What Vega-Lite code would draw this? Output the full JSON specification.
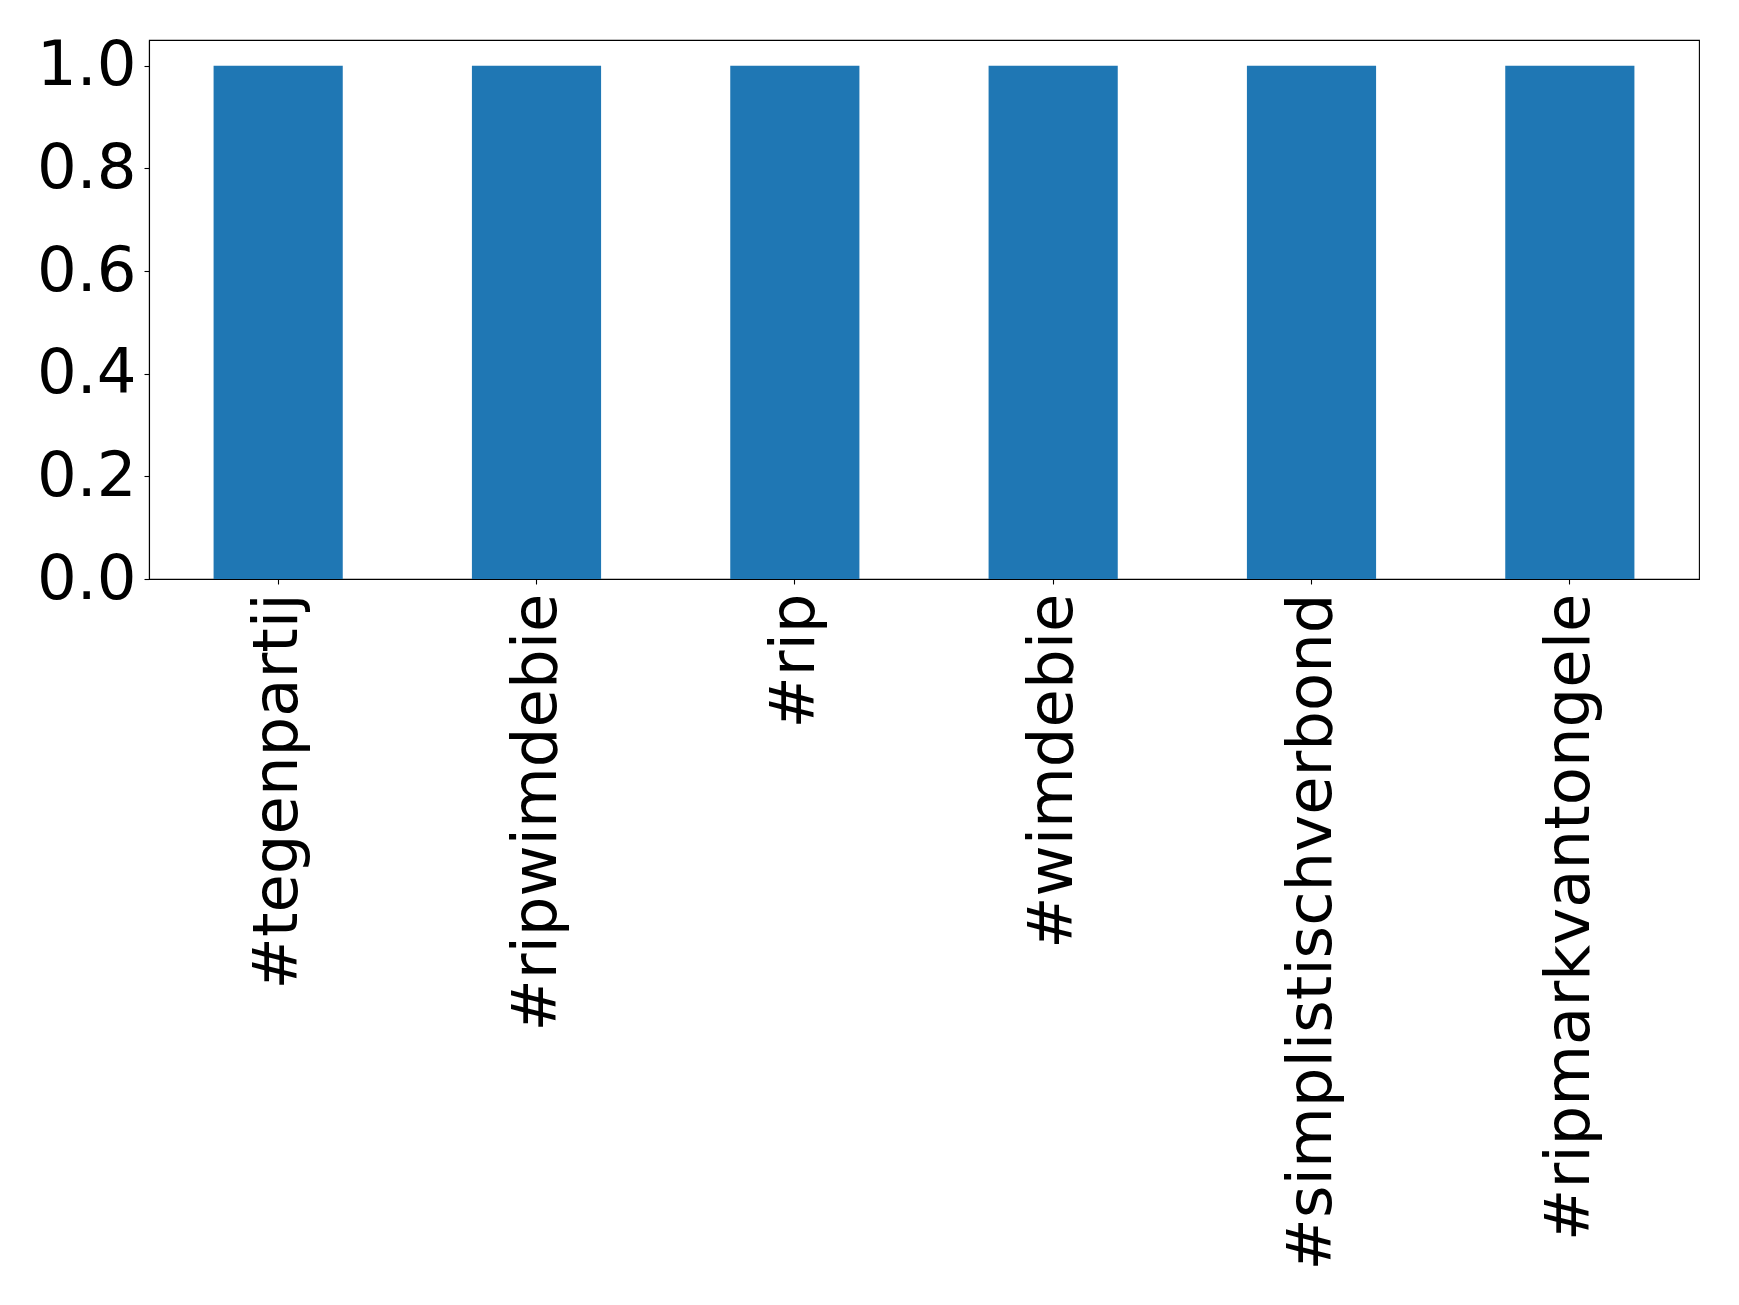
{
  "$schema": "https://vega.github.io/schema/vega-lite/v6.json",
  "width": 1550,
  "height": 539,
  "autosize": {"type": "none"},
  "padding": {"left": 149, "top": 40, "right": 40, "bottom": 726},
  "background": "white",
  "config": {
    "view": {"stroke": "black", "strokeWidth": 1.1},
    "font": "DejaVu Sans",
    "axis": {
      "labelFont": "DejaVu Sans",
      "labelFontSize": 62.5,
      "labelColor": "black",
      "tickColor": "black",
      "tickSize": 5,
      "tickWidth": 1.1,
      "domainColor": "black",
      "domainWidth": 1.1,
      "grid": false,
      "title": null
    }
  },
  "data": {
    "values": [
      {"tag": "#tegenpartij", "count": 1},
      {"tag": "#ripwimdebie", "count": 1},
      {"tag": "#rip", "count": 1},
      {"tag": "#wimdebie", "count": 1},
      {"tag": "#simplistischverbond", "count": 1},
      {"tag": "#ripmarkvantongele", "count": 1}
    ]
  },
  "mark": {"type": "bar", "color": "#1f77b4"},
  "encoding": {
    "x": {
      "field": "tag",
      "type": "nominal",
      "sort": null,
      "scale": {"paddingInner": 0.5, "paddingOuter": 0.25},
      "axis": {"labelAngle": -90, "labelPadding": 9, "labelLimit": 0}
    },
    "y": {
      "field": "count",
      "type": "quantitative",
      "scale": {"domain": [0, 1.05], "nice": false, "zero": true},
      "axis": {"values": [0, 0.2, 0.4, 0.6, 0.8, 1.0], "format": ".1f", "labelPadding": 8}
    }
  }
}
